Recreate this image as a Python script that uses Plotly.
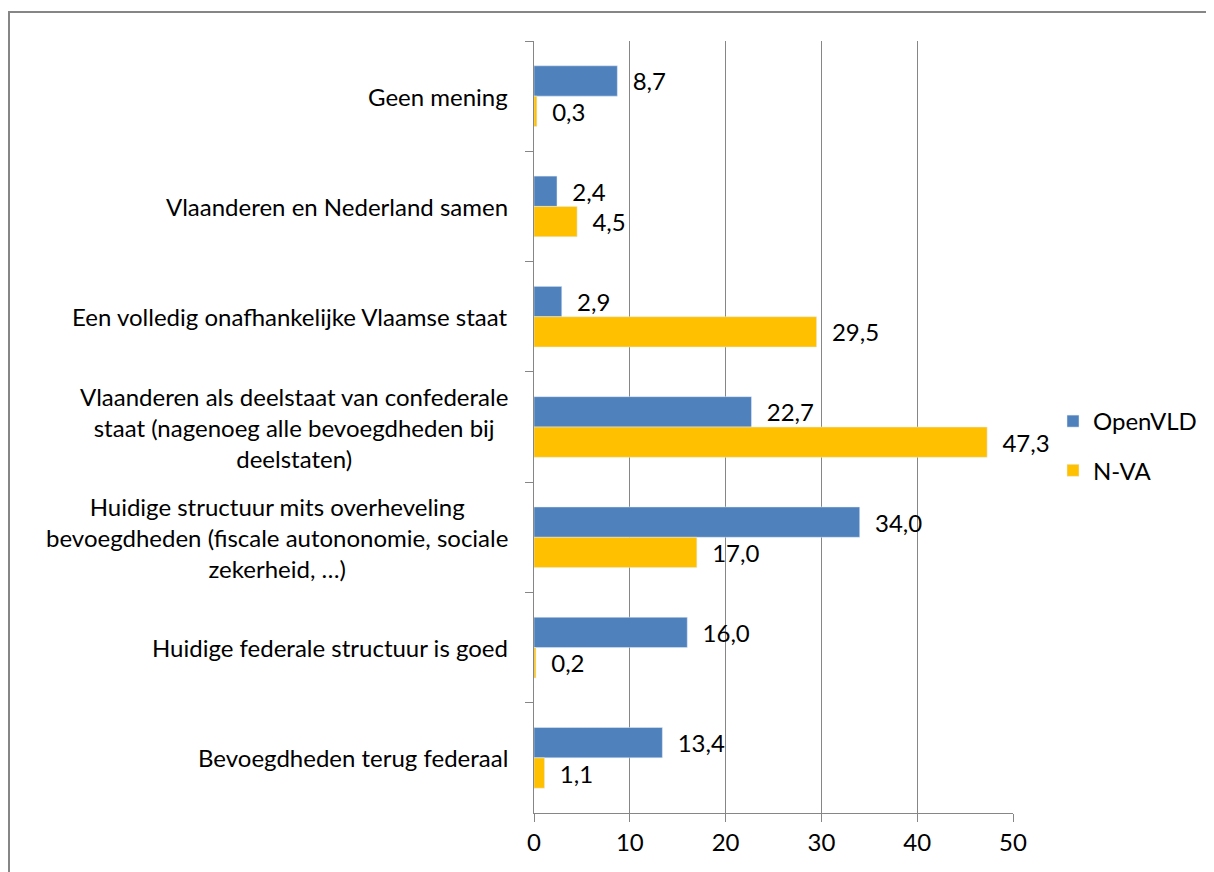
import plotly.graph_objects as go

categories = [
    "Geen mening",
    "Vlaanderen en Nederland samen",
    "Een volledig onafhankelijke Vlaamse staat",
    "Vlaanderen als deelstaat van confederale<br>staat (nagenoeg alle bevoegdheden bij<br>deelstaten)",
    "Huidige structuur mits overheveling<br>bevoegdheden (fiscale autononomie, sociale<br>zekerheid, …)",
    "Huidige federale structuur is goed",
    "Bevoegdheden terug federaal",
]
openvld = [8.7, 2.4, 2.9, 22.7, 34.0, 16.0, 13.4]
nva = [0.3, 4.5, 29.5, 47.3, 17.0, 0.2, 1.1]
x_ticks = [0, 10, 20, 30, 40, 50]

FONT = "Lato"
FS = 24
GRID = "#868686"

def fmt(vals):
    return [f"{v:.1f}".replace(".", ",") for v in vals]

fig = go.Figure()
fig.add_trace(go.Bar(
    y=categories, x=openvld, orientation="h", name="OpenVLD", legendgroup="a",
    marker=dict(color="#4F81BD"),
    text=fmt(openvld), texttemplate="  %{text}", textposition="outside",
    textfont=dict(family=FONT, size=FS, color="black"), cliponaxis=False,
))
fig.add_trace(go.Bar(
    y=categories, x=nva, orientation="h", name="N-VA", legendgroup="b",
    marker=dict(color="#FFC000"),
    text=fmt(nva), texttemplate="  %{text}", textposition="outside",
    textfont=dict(family=FONT, size=FS, color="black"), cliponaxis=False,
))

for c in categories:
    fig.add_annotation(
        x=0, xref="paper", xshift=-24, xanchor="right",
        y=c, yref="y", yanchor="middle",
        text=c, showarrow=False, align="center",
        font=dict(family=FONT, size=FS, color="black"),
    )

# page offset of 8px (body margin) removed from reference pixel positions
OFF = 8
W, H = 1206, 864
L, R, T = 534 - OFF, 1214 - 1013, 41 - OFF
B = H - (813 - OFF)
pw, ph = W - L - R, H - T - B
def px(x):
    return (x - OFF - L) / pw
def py(y):
    return (H - B - (y - OFF)) / ph

fig.add_shape(type="path", xref="paper", yref="paper",
              path=f"M {px(9)},{py(900)} L {px(9)},{py(12)} L {px(1230)},{py(12)}",
              line=dict(color=GRID, width=2))

fig.update_layout(
    width=W, height=H,
    margin=dict(l=L, r=R, t=T, b=B),
    paper_bgcolor="white", plot_bgcolor="white",
    barmode="group", bargap=0.45, bargroupgap=0,
    font=dict(family=FONT, size=FS, color="black"),
    showlegend=True,
    legend=dict(x=px(1053), y=py(446), xanchor="left", yanchor="middle",
                traceorder="grouped", font=dict(family=FONT, size=FS),
                itemwidth=30, tracegroupgap=15),
    xaxis=dict(range=[0, 50], tickvals=x_ticks, showgrid=True, gridcolor=GRID,
               gridwidth=1, zeroline=False, showline=True, linecolor=GRID,
               linewidth=1, ticks="outside", ticklen=8, tickcolor=GRID,
               tickfont=dict(family=FONT, size=FS)),
    yaxis=dict(autorange="reversed", showticklabels=False, ticks="outside",
               tickson="boundaries", ticklen=8, tickcolor=GRID, showline=True,
               linecolor=GRID, linewidth=1, showgrid=False),
)

fig.write_html("out.html")
